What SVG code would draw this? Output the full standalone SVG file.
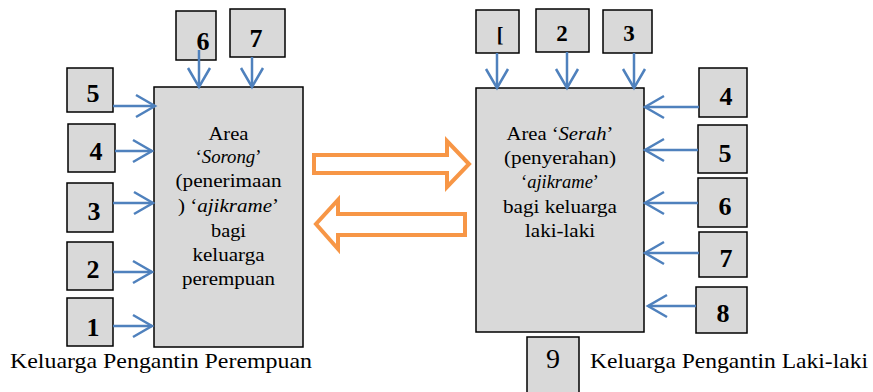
<svg xmlns="http://www.w3.org/2000/svg" width="873" height="392" viewBox="0 0 873 392">
  <style>
    .box { fill: #D9D9D9; stroke: #000; stroke-width: 1.5; }
    .num { font-family: "Liberation Serif", "Times New Roman", serif; font-weight: bold; font-size: 26px; text-anchor: middle; fill: #000; }
    .txt { font-family: "Liberation Serif", "Times New Roman", serif; font-size: 18px; text-anchor: middle; fill: #000; }
    .cap { font-family: "Liberation Serif", "Times New Roman", serif; font-size: 21px; fill: #000; }
    .it { font-style: italic; }
    .link { stroke: #4F81BD; stroke-width: 2.5; fill: none; marker-end: url(#chev); }
    .swap { fill: #fff; stroke: #F79646; stroke-width: 4; stroke-linejoin: miter; }
  </style>
  <defs>
    <marker id="chev" markerUnits="userSpaceOnUse" markerWidth="26" markerHeight="26" viewBox="0 0 26 26" refX="21" refY="13" orient="auto">
      <path d="M2,2 L21,13 L2,24" fill="none" stroke="#4F81BD" stroke-width="2.5"/>
    </marker>
  </defs>

  <rect width="873" height="392" fill="#fff"/>

  <!-- bride's family area -->
  <g id="area-sorong">
    <rect class="box" x="154" y="87" width="149" height="260"/>
    <text class="txt" x="228.5" y="140" textLength="40" lengthAdjust="spacingAndGlyphs">Area</text>
    <text class="txt" x="228.5" y="163" textLength="66" lengthAdjust="spacingAndGlyphs">‘<tspan class="it">Sorong</tspan>’</text>
    <text class="txt" x="228.5" y="187" textLength="106" lengthAdjust="spacingAndGlyphs">(penerimaan</text>
    <text class="txt" x="228.5" y="212" textLength="101" lengthAdjust="spacingAndGlyphs">) ‘<tspan class="it">ajikrame</tspan>’</text>
    <text class="txt" x="228.5" y="237" textLength="35" lengthAdjust="spacingAndGlyphs">bagi</text>
    <text class="txt" x="228.5" y="261" textLength="72" lengthAdjust="spacingAndGlyphs">keluarga</text>
    <text class="txt" x="228.5" y="285" textLength="93" lengthAdjust="spacingAndGlyphs">perempuan</text>
  </g>

  <!-- groom's family area -->
  <g id="area-serah">
    <rect class="box" x="476" y="88" width="168" height="244"/>
    <text class="txt" x="560" y="140" textLength="107" lengthAdjust="spacingAndGlyphs">Area ‘<tspan class="it">Serah</tspan>’</text>
    <text class="txt" x="560" y="164" textLength="112" lengthAdjust="spacingAndGlyphs">(penyerahan)</text>
    <text class="txt" x="560" y="188" textLength="78" lengthAdjust="spacingAndGlyphs">‘<tspan class="it">ajikrame</tspan>’</text>
    <text class="txt" x="560" y="213" textLength="114" lengthAdjust="spacingAndGlyphs">bagi keluarga</text>
    <text class="txt" x="560" y="237" textLength="70" lengthAdjust="spacingAndGlyphs">laki-laki</text>
  </g>

  <!-- bride's side numbered positions -->
  <g id="p-l6"><rect class="box" x="176" y="11" width="40" height="49"/><text class="num" x="203" y="50">6</text></g>
  <g id="p-l7"><rect class="box" x="230" y="9" width="55" height="48"/><text class="num" x="256" y="47">7</text></g>
  <g id="p-l5"><rect class="box" x="67" y="68" width="46" height="44"/><text class="num" x="93" y="102">5</text></g>
  <g id="p-l4"><rect class="box" x="68" y="124" width="47" height="48"/><text class="num" x="96" y="160">4</text></g>
  <g id="p-l3"><rect class="box" x="67" y="183" width="46" height="49"/><text class="num" x="94" y="220">3</text></g>
  <g id="p-l2"><rect class="box" x="67" y="242" width="46" height="48"/><text class="num" x="93" y="278">2</text></g>
  <g id="p-l1"><rect class="box" x="67" y="298" width="46" height="48"/><text class="num" x="93" y="336">1</text></g>

  <!-- groom's side numbered positions -->
  <g id="p-r1"><rect class="box" x="476" y="10" width="43" height="43"/><text class="num" x="500" y="42" style="font-size:20px">[</text></g>
  <g id="p-r2"><rect class="box" x="536" y="9" width="53" height="43"/><text class="num" x="562" y="41" style="font-size:23px">2</text></g>
  <g id="p-r3"><rect class="box" x="603" y="10" width="49" height="43"/><text class="num" x="629" y="41" style="font-size:23px">3</text></g>
  <g id="p-r4"><rect class="box" x="699" y="68" width="48" height="49"/><text class="num" x="726" y="105">4</text></g>
  <g id="p-r5"><rect class="box" x="698" y="125" width="49" height="48"/><text class="num" x="725" y="162">5</text></g>
  <g id="p-r6"><rect class="box" x="698" y="178" width="49" height="49"/><text class="num" x="725" y="215">6</text></g>
  <g id="p-r7"><rect class="box" x="699" y="232" width="48" height="45"/><text class="num" x="726" y="267">7</text></g>
  <g id="p-r8"><rect class="box" x="696" y="287" width="51" height="46"/><text class="num" x="723" y="322">8</text></g>
  <g id="p-r9"><rect class="box" x="527" y="337" width="52" height="60"/><text class="cap" x="553" y="368" text-anchor="middle" style="font-size:28px">9</text></g>

  <!-- captions -->
  <g id="caption-left"><text class="cap" x="10" y="368" textLength="302" lengthAdjust="spacingAndGlyphs">Keluarga Pengantin Perempuan</text></g>
  <g id="caption-right"><text class="cap" x="590" y="368" textLength="278" lengthAdjust="spacingAndGlyphs">Keluarga Pengantin Laki-laki</text></g>

  <!-- connectors -->
  <g id="connectors">
    <line class="link" x1="199" y1="50" x2="199" y2="87"/>
    <line class="link" x1="252" y1="57" x2="252" y2="87"/>
    <line class="link" x1="113" y1="106" x2="155" y2="106"/>
    <line class="link" x1="115" y1="151" x2="152" y2="151"/>
    <line class="link" x1="113" y1="203" x2="153" y2="203"/>
    <line class="link" x1="113" y1="272" x2="152" y2="272"/>
    <line class="link" x1="113" y1="326" x2="152" y2="326"/>

    <line class="link" x1="497" y1="53" x2="497" y2="88"/>
    <line class="link" x1="567" y1="52" x2="567" y2="88"/>
    <line class="link" x1="634" y1="53" x2="634" y2="88"/>
    <line class="link" x1="699" y1="107" x2="645" y2="107"/>
    <line class="link" x1="698" y1="150" x2="645" y2="150"/>
    <line class="link" x1="698" y1="203" x2="645" y2="203"/>
    <line class="link" x1="699" y1="253" x2="645" y2="253"/>
    <line class="link" x1="696" y1="306" x2="648" y2="306"/>

    <polygon class="swap" points="314,155 447,155 447,141 469,164 447,187 447,173 314,173"/>
    <polygon class="swap" points="465,214 338,214 338,200 316,224 338,249 338,235 465,235"/>
  </g>
</svg>
